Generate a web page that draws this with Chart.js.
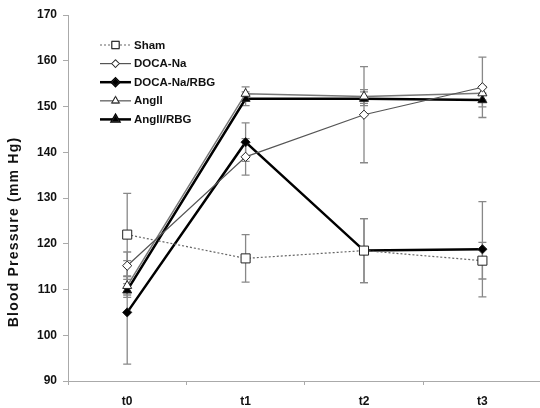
<!DOCTYPE html>
<html lang="en">
<head>
    <meta charset="UTF-8">
    <title>Blood Pressure</title>
    <style>
        body { margin: 0; background: #fff; overflow: hidden; }
        .box { width: 540px; height: 408px; overflow: hidden; }
    </style>
</head>
<body>
    <div class="box">
        <canvas id="myChart" width="549" height="408"></canvas>
    </div>

<script src="https://cdn.jsdelivr.net/npm/chart.js"></script>
<script>
    const labels = ['t0', 't1', 't2', 't3'];

    const sham = [122, 116.8, 118.5, 116.3];
    const shamErr = [9, 5.2, 7, 4];
    const docaNa = [115.2, 139, 148.2, 154.2];
    const docaNaErr = [3, 4, 10.5, 6.6];
    const docaRbg = [105, 142.2, 118.5, 118.8];
    const docaRbgErr = [11.3, 4.2, 7, 10.4];
    const angII = [110.8, 152.8, 152.2, 152.9];
    const angIIErr = [2, 1.5, 1.5, 1.5];
    const angRbg = [109.8, 151.7, 151.7, 151.4];
    const angRbgErr = [1.5, 1.5, 1.5, 1.5];

    const yTicks = [90, 100, 110, 120, 130, 140, 150, 160, 170];

    const font = "'Liberation Sans', Arial, sans-serif";

    // error bars, drawn under the markers
    const errorBars = {
        id: 'errorBars',
        beforeDatasetsDraw(chart) {
            const ctx = chart.ctx;
            const y = chart.scales.y;
            ctx.save();
            ctx.strokeStyle = '#888';
            ctx.lineWidth = 1.3;
            chart.data.datasets.forEach((ds, i) => {
                const meta = chart.getDatasetMeta(i);
                meta.data.forEach((pt, j) => {
                    const v = ds.data[j], e = ds.err[j];
                    const top = y.getPixelForValue(v + e);
                    const bot = y.getPixelForValue(v - e);
                    ctx.beginPath();
                    ctx.moveTo(pt.x, top); ctx.lineTo(pt.x, bot);
                    ctx.moveTo(pt.x - 4, top); ctx.lineTo(pt.x + 4, top);
                    ctx.moveTo(pt.x - 4, bot); ctx.lineTo(pt.x + 4, bot);
                    ctx.stroke();
                });
            });
            ctx.restore();
        }
    };

    // legend inside the plot, top left, plus the y axis title
    const innerLegend = {
        id: 'innerLegend',
        afterDraw(chart) {
            const ctx = chart.ctx;
            ctx.save();
            chart.data.datasets.forEach((ds, i) => {
                const yy = 45 + i * 18.6;
                ctx.beginPath();
                ctx.strokeStyle = ds.borderColor;
                ctx.lineWidth = ds.borderWidth;
                ctx.setLineDash(ds.borderDash || []);
                ctx.moveTo(100, yy); ctx.lineTo(131, yy);
                ctx.stroke();
                ctx.setLineDash([]);
                Chart.helpers.drawPoint(ctx, {
                    pointStyle: ds.pointStyle,
                    radius: ds.pointRadius * 0.8,
                    borderWidth: ds.pointBorderWidth
                }, 115.5, yy);
                ctx.fillStyle = ds.pointBackgroundColor;
                ctx.strokeStyle = ds.pointBorderColor;
                ctx.lineWidth = ds.pointBorderWidth;
                ctx.fill();
                ctx.stroke();
                ctx.fillStyle = '#111';
                ctx.font = 'bold 11.5px ' + font;
                ctx.textBaseline = 'middle';
                ctx.fillText(ds.label, 134, yy + 0.5);
            });
            ctx.translate(14, 232);
            ctx.rotate(-Math.PI / 2);
            ctx.textAlign = 'center';
            ctx.textBaseline = 'middle';
            ctx.font = 'bold 14px ' + font;
            ctx.letterSpacing = '1.2px';
            ctx.fillStyle = '#111';
            ctx.fillText('Blood Pressure (mm Hg)', 0, 0);
            ctx.restore();
        }
    };

    function series(label, data, err, color, width, style, radius, fill, dash) {
        return {
            label: label,
            data: data,
            err: err,
            borderColor: color,
            borderWidth: width,
            borderDash: dash,
            pointStyle: style,
            pointRadius: radius,
            pointHoverRadius: radius,
            pointBackgroundColor: fill,
            pointBorderColor: '#222',
            pointBorderWidth: 1,
            tension: 0,
            fill: false
        };
    }

    new Chart(document.getElementById('myChart'), {
        type: 'line',
        data: {
            labels: labels,
            datasets: [
                series('Sham', sham, shamErr, '#666', 1.2, 'rect', 6.4, '#fff', [2, 2]),
                series('DOCA-Na', docaNa, docaNaErr, '#555', 1.2, 'rectRot', 4.6, '#fff'),
                series('DOCA-Na/RBG', docaRbg, docaRbgErr, '#000', 2.5, 'rectRot', 4.6, '#000'),
                series('AngII', angII, angIIErr, '#777', 1.5, 'triangle', 5.2, '#fff'),
                series('AngII/RBG', angRbg, angRbgErr, '#000', 2.5, 'triangle', 5.2, '#000')
            ]
        },
        options: {
            responsive: false,
            animation: false,
            layout: { padding: { top: 15, right: 0, left: 0, bottom: 0 } },
            plugins: {
                legend: { display: false },
                tooltip: { enabled: false }
            },
            scales: {
                x: {
                    offset: true,
                    grid: { drawOnChartArea: false, offset: true, tickLength: 4, color: '#aaa' },
                    border: { color: '#aaa' },
                    ticks: { color: '#111', padding: 9, font: { family: font, size: 12, weight: 'bold' } },
                    afterFit(s) { s.height = 27; }
                },
                y: {
                    min: 90,
                    max: 170,
                    afterBuildTicks(s) { s.ticks = yTicks.map(v => ({ value: v })); },
                    grid: { drawOnChartArea: false, tickLength: 5, color: '#aaa' },
                    border: { color: '#aaa' },
                    ticks: { color: '#111', padding: 6, font: { family: font, size: 12, weight: 'bold' } },
                    afterFit(s) { s.width = 68; }
                }
            }
        },
        plugins: [errorBars, innerLegend]
    });
</script>
</body>
</html>
